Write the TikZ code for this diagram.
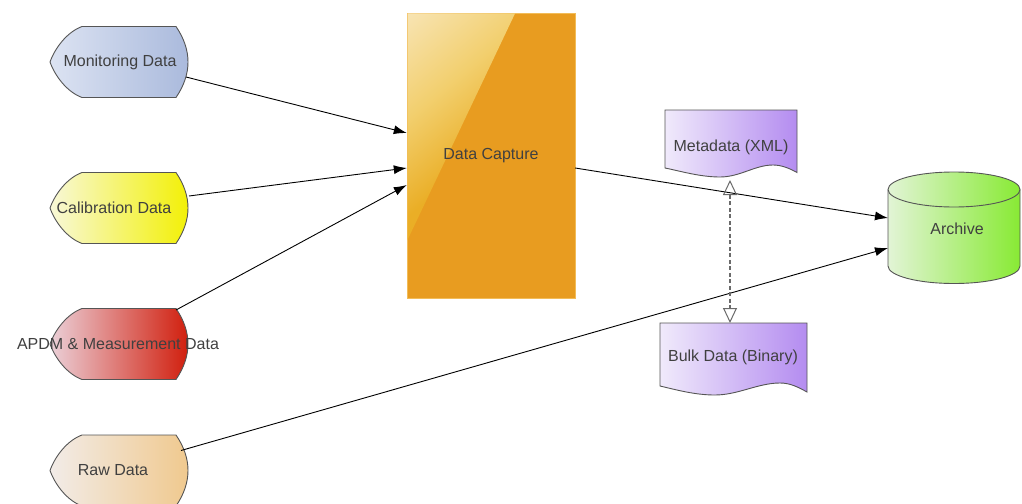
\documentclass[tikz,border=0pt]{standalone}
\usepackage{fontspec}
\setmainfont{Liberation Sans}
\usetikzlibrary{arrows.meta,calc}
\definecolor{txt}{HTML}{404040}
\definecolor{edge}{HTML}{555555}
\definecolor{dashc}{HTML}{6A6A6A}
\definecolor{monl}{HTML}{DCE3F2}
\definecolor{monr}{HTML}{A9B9DC}
\definecolor{call}{HTML}{F8F8D8}
\definecolor{calr}{HTML}{F2F000}
\definecolor{apdl}{HTML}{EBD0D8}
\definecolor{apdr}{HTML}{D01A08}
\definecolor{rawl}{HTML}{F2ECE8}
\definecolor{rawr}{HTML}{F0C88C}
\definecolor{docl}{HTML}{F0EAFB}
\definecolor{docr}{HTML}{B48CF0}
\definecolor{arcl}{HTML}{E2F4D6}
\definecolor{arcr}{HTML}{88EA34}
\definecolor{capfill}{HTML}{E89C20}
\definecolor{capedge}{HTML}{F2BC58}
\definecolor{caphl}{HTML}{FBF1DE}
\definecolor{caphm}{HTML}{F2CF6E}
\definecolor{caphr}{HTML}{EAAE26}
\pgfdeclareverticalshading{caphigh}{100bp}{color(0bp)=(caphr); color(40bp)=(caphr); color(62bp)=(caphm); color(100bp)=(caphl)}

% #1 name, #2 #3 shape centre, #4 text x-offset, #5 text, #6 #7 colours
\newcommand\dispnode[7]{%
  \begin{scope}[shift={(#2,#3)}]
    \path[outline,left color=#6,right color=#7]
      (-37,-35.5) -- (57,-35.5)
      .. controls (73,-12) and (73,12) .. (57,35.5)
      -- (-37,35.5)
      .. controls (-52,30) and (-64,14) .. (-69,0)
      .. controls (-64,-14) and (-52,-30) .. cycle;
  \end{scope}
  \node[lbl] (#1) at ($(#2,#3)+(#4,0)$) {#5};}

\begin{document}
\begin{tikzpicture}[x=1pt,y=-1pt,
  lbl/.style={text=txt,inner sep=0pt,font=\fontsize{16}{19}\selectfont},
  outline/.style={draw=edge,line width=0.9pt},
  flow/.style={draw=black,line width=0.9pt,-{Latex[length=13pt,width=9pt]}},
  link/.style={draw=dashc,line width=1.3pt,dash pattern=on 4pt off 2.5pt,
    {Triangle[open,length=15pt,width=14pt,line width=1pt]}-{Triangle[open,length=15pt,width=14pt,line width=1pt]}}]
\useasboundingbox (0,0) rectangle (1022,503);
\fill[white] (0,0) rectangle (1022,503);

% left display shapes
\dispnode{mon}{119}{62}{1}{Monitoring Data}{monl}{monr}
\dispnode{cal}{119}{208}{-5}{Calibration Data}{call}{calr}
\dispnode{apdm}{119}{344}{-1}{APDM \& Measurement Data}{apdl}{apdr}
\dispnode{raw}{119}{470.5}{-6}{Raw Data}{rawl}{rawr}

% Data Capture
\path[fill=capfill,draw=capedge,line width=0.8pt] (407,13) rectangle (575,298);
\path[shading=caphigh,shading angle=40] (407.5,13.5) -- (515,13.5) -- (407.5,240) -- cycle;
\node[lbl,minimum width=168pt,minimum height=285pt] (cap) at (491,155.5) {Data Capture};

% Metadata document
\path[outline,left color=docl,right color=docr]
  (665,110) -- (797,110) -- (797,172.5)
  .. controls (789,168) and (781,165) .. (773,165)
  .. controls (755,165) and (740,177) .. (720,177)
  .. controls (700,177) and (680,171) .. (665,168) -- cycle;
\node[lbl] (meta) at (731,147) {Metadata (XML)};

% Bulk document
\path[outline,left color=docl,right color=docr]
  (660,323) -- (807,323) -- (807,392)
  .. controls (798,387) and (790,383) .. (780,383)
  .. controls (758,383) and (738,395) .. (715,395)
  .. controls (695,395) and (677,390) .. (660,386) -- cycle;
\node[lbl] (bulk) at (733,357) {Bulk Data (Binary)};

% Archive cylinder
\path[outline,left color=arcl,right color=arcr]
  (888,189.5) -- (888,266)
  .. controls (888,275.7) and (917.5,283.5) .. (954,283.5)
  .. controls (990.5,283.5) and (1020,275.7) .. (1020,266)
  -- (1020,189.5)
  .. controls (1020,179.8) and (990.5,172) .. (954,172)
  .. controls (917.5,172) and (888,179.8) .. (888,189.5) -- cycle;
\draw[outline] (888,189.5) .. controls (888,199.2) and (917.5,207) .. (954,207)
  .. controls (990.5,207) and (1020,199.2) .. (1020,189.5);
\node[lbl] (arch) at (957,229) {Archive};

% connectors
\draw[flow] ($(mon)+(66,15)$) -- ($(cap.west)+(0,-22.5)$);
\draw[flow] ($(cal)+(75,-12)$) -- ($(cap.west)+(0,12.5)$);
\draw[flow] ($(apdm)+(58,-34)$) -- ($(cap.west)+(0,29.5)$);
\draw[flow] ($(cap.east)+(0,12.5)$) -- ($(arch)+(-69,-11)$);
\draw[flow] ($(raw)+(68,-20)$) -- ($(arch)+(-69,19)$);
\draw[link] ($(meta)+(-1,33)$) -- ($(bulk)+(-3,-34)$);
\end{tikzpicture}
\end{document}
